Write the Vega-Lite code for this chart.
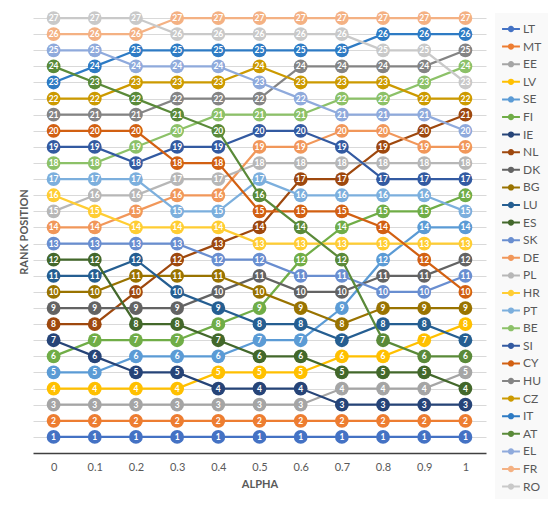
{
  "$schema": "https://vega.github.io/schema/vega-lite/v6.json",
  "width": 453,
  "height": 443,
  "autosize": {"type": "none"},
  "padding": {"left": 33, "top": 10, "right": 64, "bottom": 55},
  "background": "white",
  "data": {
    "values": [
      {"country":"LT","alpha":"0","rank":1},{"country":"LT","alpha":"0.1","rank":1},{"country":"LT","alpha":"0.2","rank":1},{"country":"LT","alpha":"0.3","rank":1},{"country":"LT","alpha":"0.4","rank":1},{"country":"LT","alpha":"0.5","rank":1},{"country":"LT","alpha":"0.6","rank":1},{"country":"LT","alpha":"0.7","rank":1},{"country":"LT","alpha":"0.8","rank":1},{"country":"LT","alpha":"0.9","rank":1},{"country":"LT","alpha":"1","rank":1},
      {"country":"MT","alpha":"0","rank":2},{"country":"MT","alpha":"0.1","rank":2},{"country":"MT","alpha":"0.2","rank":2},{"country":"MT","alpha":"0.3","rank":2},{"country":"MT","alpha":"0.4","rank":2},{"country":"MT","alpha":"0.5","rank":2},{"country":"MT","alpha":"0.6","rank":2},{"country":"MT","alpha":"0.7","rank":2},{"country":"MT","alpha":"0.8","rank":2},{"country":"MT","alpha":"0.9","rank":2},{"country":"MT","alpha":"1","rank":2},
      {"country":"EE","alpha":"0","rank":3},{"country":"EE","alpha":"0.1","rank":3},{"country":"EE","alpha":"0.2","rank":3},{"country":"EE","alpha":"0.3","rank":3},{"country":"EE","alpha":"0.4","rank":3},{"country":"EE","alpha":"0.5","rank":3},{"country":"EE","alpha":"0.6","rank":3},{"country":"EE","alpha":"0.7","rank":4},{"country":"EE","alpha":"0.8","rank":4},{"country":"EE","alpha":"0.9","rank":4},{"country":"EE","alpha":"1","rank":5},
      {"country":"LV","alpha":"0","rank":4},{"country":"LV","alpha":"0.1","rank":4},{"country":"LV","alpha":"0.2","rank":4},{"country":"LV","alpha":"0.3","rank":4},{"country":"LV","alpha":"0.4","rank":5},{"country":"LV","alpha":"0.5","rank":5},{"country":"LV","alpha":"0.6","rank":5},{"country":"LV","alpha":"0.7","rank":6},{"country":"LV","alpha":"0.8","rank":6},{"country":"LV","alpha":"0.9","rank":7},{"country":"LV","alpha":"1","rank":8},
      {"country":"SE","alpha":"0","rank":5},{"country":"SE","alpha":"0.1","rank":5},{"country":"SE","alpha":"0.2","rank":6},{"country":"SE","alpha":"0.3","rank":6},{"country":"SE","alpha":"0.4","rank":6},{"country":"SE","alpha":"0.5","rank":7},{"country":"SE","alpha":"0.6","rank":7},{"country":"SE","alpha":"0.7","rank":9},{"country":"SE","alpha":"0.8","rank":12},{"country":"SE","alpha":"0.9","rank":14},{"country":"SE","alpha":"1","rank":14},
      {"country":"FI","alpha":"0","rank":6},{"country":"FI","alpha":"0.1","rank":7},{"country":"FI","alpha":"0.2","rank":7},{"country":"FI","alpha":"0.3","rank":7},{"country":"FI","alpha":"0.4","rank":8},{"country":"FI","alpha":"0.5","rank":9},{"country":"FI","alpha":"0.6","rank":12},{"country":"FI","alpha":"0.7","rank":14},{"country":"FI","alpha":"0.8","rank":15},{"country":"FI","alpha":"0.9","rank":15},{"country":"FI","alpha":"1","rank":16},
      {"country":"IE","alpha":"0","rank":7},{"country":"IE","alpha":"0.1","rank":6},{"country":"IE","alpha":"0.2","rank":5},{"country":"IE","alpha":"0.3","rank":5},{"country":"IE","alpha":"0.4","rank":4},{"country":"IE","alpha":"0.5","rank":4},{"country":"IE","alpha":"0.6","rank":4},{"country":"IE","alpha":"0.7","rank":3},{"country":"IE","alpha":"0.8","rank":3},{"country":"IE","alpha":"0.9","rank":3},{"country":"IE","alpha":"1","rank":3},
      {"country":"NL","alpha":"0","rank":8},{"country":"NL","alpha":"0.1","rank":8},{"country":"NL","alpha":"0.2","rank":10},{"country":"NL","alpha":"0.3","rank":12},{"country":"NL","alpha":"0.4","rank":13},{"country":"NL","alpha":"0.5","rank":14},{"country":"NL","alpha":"0.6","rank":17},{"country":"NL","alpha":"0.7","rank":17},{"country":"NL","alpha":"0.8","rank":19},{"country":"NL","alpha":"0.9","rank":20},{"country":"NL","alpha":"1","rank":21},
      {"country":"DK","alpha":"0","rank":9},{"country":"DK","alpha":"0.1","rank":9},{"country":"DK","alpha":"0.2","rank":9},{"country":"DK","alpha":"0.3","rank":9},{"country":"DK","alpha":"0.4","rank":10},{"country":"DK","alpha":"0.5","rank":11},{"country":"DK","alpha":"0.6","rank":10},{"country":"DK","alpha":"0.7","rank":10},{"country":"DK","alpha":"0.8","rank":11},{"country":"DK","alpha":"0.9","rank":11},{"country":"DK","alpha":"1","rank":12},
      {"country":"BG","alpha":"0","rank":10},{"country":"BG","alpha":"0.1","rank":10},{"country":"BG","alpha":"0.2","rank":11},{"country":"BG","alpha":"0.3","rank":11},{"country":"BG","alpha":"0.4","rank":11},{"country":"BG","alpha":"0.5","rank":10},{"country":"BG","alpha":"0.6","rank":9},{"country":"BG","alpha":"0.7","rank":8},{"country":"BG","alpha":"0.8","rank":9},{"country":"BG","alpha":"0.9","rank":9},{"country":"BG","alpha":"1","rank":9},
      {"country":"LU","alpha":"0","rank":11},{"country":"LU","alpha":"0.1","rank":11},{"country":"LU","alpha":"0.2","rank":12},{"country":"LU","alpha":"0.3","rank":10},{"country":"LU","alpha":"0.4","rank":9},{"country":"LU","alpha":"0.5","rank":8},{"country":"LU","alpha":"0.6","rank":8},{"country":"LU","alpha":"0.7","rank":7},{"country":"LU","alpha":"0.8","rank":8},{"country":"LU","alpha":"0.9","rank":8},{"country":"LU","alpha":"1","rank":7},
      {"country":"ES","alpha":"0","rank":12},{"country":"ES","alpha":"0.1","rank":12},{"country":"ES","alpha":"0.2","rank":8},{"country":"ES","alpha":"0.3","rank":8},{"country":"ES","alpha":"0.4","rank":7},{"country":"ES","alpha":"0.5","rank":6},{"country":"ES","alpha":"0.6","rank":6},{"country":"ES","alpha":"0.7","rank":5},{"country":"ES","alpha":"0.8","rank":5},{"country":"ES","alpha":"0.9","rank":5},{"country":"ES","alpha":"1","rank":4},
      {"country":"SK","alpha":"0","rank":13},{"country":"SK","alpha":"0.1","rank":13},{"country":"SK","alpha":"0.2","rank":13},{"country":"SK","alpha":"0.3","rank":13},{"country":"SK","alpha":"0.4","rank":12},{"country":"SK","alpha":"0.5","rank":12},{"country":"SK","alpha":"0.6","rank":11},{"country":"SK","alpha":"0.7","rank":11},{"country":"SK","alpha":"0.8","rank":10},{"country":"SK","alpha":"0.9","rank":10},{"country":"SK","alpha":"1","rank":11},
      {"country":"DE","alpha":"0","rank":14},{"country":"DE","alpha":"0.1","rank":14},{"country":"DE","alpha":"0.2","rank":15},{"country":"DE","alpha":"0.3","rank":16},{"country":"DE","alpha":"0.4","rank":16},{"country":"DE","alpha":"0.5","rank":19},{"country":"DE","alpha":"0.6","rank":19},{"country":"DE","alpha":"0.7","rank":20},{"country":"DE","alpha":"0.8","rank":20},{"country":"DE","alpha":"0.9","rank":19},{"country":"DE","alpha":"1","rank":19},
      {"country":"PL","alpha":"0","rank":15},{"country":"PL","alpha":"0.1","rank":16},{"country":"PL","alpha":"0.2","rank":16},{"country":"PL","alpha":"0.3","rank":17},{"country":"PL","alpha":"0.4","rank":17},{"country":"PL","alpha":"0.5","rank":18},{"country":"PL","alpha":"0.6","rank":18},{"country":"PL","alpha":"0.7","rank":18},{"country":"PL","alpha":"0.8","rank":18},{"country":"PL","alpha":"0.9","rank":18},{"country":"PL","alpha":"1","rank":18},
      {"country":"HR","alpha":"0","rank":16},{"country":"HR","alpha":"0.1","rank":15},{"country":"HR","alpha":"0.2","rank":14},{"country":"HR","alpha":"0.3","rank":14},{"country":"HR","alpha":"0.4","rank":14},{"country":"HR","alpha":"0.5","rank":13},{"country":"HR","alpha":"0.6","rank":13},{"country":"HR","alpha":"0.7","rank":13},{"country":"HR","alpha":"0.8","rank":13},{"country":"HR","alpha":"0.9","rank":13},{"country":"HR","alpha":"1","rank":13},
      {"country":"PT","alpha":"0","rank":17},{"country":"PT","alpha":"0.1","rank":17},{"country":"PT","alpha":"0.2","rank":17},{"country":"PT","alpha":"0.3","rank":15},{"country":"PT","alpha":"0.4","rank":15},{"country":"PT","alpha":"0.5","rank":17},{"country":"PT","alpha":"0.6","rank":16},{"country":"PT","alpha":"0.7","rank":16},{"country":"PT","alpha":"0.8","rank":16},{"country":"PT","alpha":"0.9","rank":16},{"country":"PT","alpha":"1","rank":15},
      {"country":"BE","alpha":"0","rank":18},{"country":"BE","alpha":"0.1","rank":18},{"country":"BE","alpha":"0.2","rank":19},{"country":"BE","alpha":"0.3","rank":20},{"country":"BE","alpha":"0.4","rank":21},{"country":"BE","alpha":"0.5","rank":21},{"country":"BE","alpha":"0.6","rank":21},{"country":"BE","alpha":"0.7","rank":22},{"country":"BE","alpha":"0.8","rank":22},{"country":"BE","alpha":"0.9","rank":23},{"country":"BE","alpha":"1","rank":24},
      {"country":"SI","alpha":"0","rank":19},{"country":"SI","alpha":"0.1","rank":19},{"country":"SI","alpha":"0.2","rank":18},{"country":"SI","alpha":"0.3","rank":19},{"country":"SI","alpha":"0.4","rank":19},{"country":"SI","alpha":"0.5","rank":20},{"country":"SI","alpha":"0.6","rank":20},{"country":"SI","alpha":"0.7","rank":19},{"country":"SI","alpha":"0.8","rank":17},{"country":"SI","alpha":"0.9","rank":17},{"country":"SI","alpha":"1","rank":17},
      {"country":"CY","alpha":"0","rank":20},{"country":"CY","alpha":"0.1","rank":20},{"country":"CY","alpha":"0.2","rank":20},{"country":"CY","alpha":"0.3","rank":18},{"country":"CY","alpha":"0.4","rank":18},{"country":"CY","alpha":"0.5","rank":15},{"country":"CY","alpha":"0.6","rank":15},{"country":"CY","alpha":"0.7","rank":15},{"country":"CY","alpha":"0.8","rank":14},{"country":"CY","alpha":"0.9","rank":12},{"country":"CY","alpha":"1","rank":10},
      {"country":"HU","alpha":"0","rank":21},{"country":"HU","alpha":"0.1","rank":21},{"country":"HU","alpha":"0.2","rank":21},{"country":"HU","alpha":"0.3","rank":22},{"country":"HU","alpha":"0.4","rank":22},{"country":"HU","alpha":"0.5","rank":22},{"country":"HU","alpha":"0.6","rank":24},{"country":"HU","alpha":"0.7","rank":24},{"country":"HU","alpha":"0.8","rank":24},{"country":"HU","alpha":"0.9","rank":24},{"country":"HU","alpha":"1","rank":25},
      {"country":"CZ","alpha":"0","rank":22},{"country":"CZ","alpha":"0.1","rank":22},{"country":"CZ","alpha":"0.2","rank":23},{"country":"CZ","alpha":"0.3","rank":23},{"country":"CZ","alpha":"0.4","rank":23},{"country":"CZ","alpha":"0.5","rank":24},{"country":"CZ","alpha":"0.6","rank":23},{"country":"CZ","alpha":"0.7","rank":23},{"country":"CZ","alpha":"0.8","rank":23},{"country":"CZ","alpha":"0.9","rank":22},{"country":"CZ","alpha":"1","rank":22},
      {"country":"IT","alpha":"0","rank":23},{"country":"IT","alpha":"0.1","rank":24},{"country":"IT","alpha":"0.2","rank":25},{"country":"IT","alpha":"0.3","rank":25},{"country":"IT","alpha":"0.4","rank":25},{"country":"IT","alpha":"0.5","rank":25},{"country":"IT","alpha":"0.6","rank":25},{"country":"IT","alpha":"0.7","rank":25},{"country":"IT","alpha":"0.8","rank":26},{"country":"IT","alpha":"0.9","rank":26},{"country":"IT","alpha":"1","rank":26},
      {"country":"AT","alpha":"0","rank":24},{"country":"AT","alpha":"0.1","rank":23},{"country":"AT","alpha":"0.2","rank":22},{"country":"AT","alpha":"0.3","rank":21},{"country":"AT","alpha":"0.4","rank":20},{"country":"AT","alpha":"0.5","rank":16},{"country":"AT","alpha":"0.6","rank":14},{"country":"AT","alpha":"0.7","rank":12},{"country":"AT","alpha":"0.8","rank":7},{"country":"AT","alpha":"0.9","rank":6},{"country":"AT","alpha":"1","rank":6},
      {"country":"EL","alpha":"0","rank":25},{"country":"EL","alpha":"0.1","rank":25},{"country":"EL","alpha":"0.2","rank":24},{"country":"EL","alpha":"0.3","rank":24},{"country":"EL","alpha":"0.4","rank":24},{"country":"EL","alpha":"0.5","rank":23},{"country":"EL","alpha":"0.6","rank":22},{"country":"EL","alpha":"0.7","rank":21},{"country":"EL","alpha":"0.8","rank":21},{"country":"EL","alpha":"0.9","rank":21},{"country":"EL","alpha":"1","rank":20},
      {"country":"FR","alpha":"0","rank":26},{"country":"FR","alpha":"0.1","rank":26},{"country":"FR","alpha":"0.2","rank":26},{"country":"FR","alpha":"0.3","rank":27},{"country":"FR","alpha":"0.4","rank":27},{"country":"FR","alpha":"0.5","rank":27},{"country":"FR","alpha":"0.6","rank":27},{"country":"FR","alpha":"0.7","rank":27},{"country":"FR","alpha":"0.8","rank":27},{"country":"FR","alpha":"0.9","rank":27},{"country":"FR","alpha":"1","rank":27},
      {"country":"RO","alpha":"0","rank":27},{"country":"RO","alpha":"0.1","rank":27},{"country":"RO","alpha":"0.2","rank":27},{"country":"RO","alpha":"0.3","rank":26},{"country":"RO","alpha":"0.4","rank":26},{"country":"RO","alpha":"0.5","rank":26},{"country":"RO","alpha":"0.6","rank":26},{"country":"RO","alpha":"0.7","rank":26},{"country":"RO","alpha":"0.8","rank":25},{"country":"RO","alpha":"0.9","rank":25},{"country":"RO","alpha":"1","rank":23}
    ]
  },
  "encoding": {
    "x": {
      "field": "alpha",
      "type": "ordinal",
      "sort": ["0", "0.1", "0.2", "0.3", "0.4", "0.5", "0.6", "0.7", "0.8", "0.9", "1"],
      "scale": {"type": "point", "padding": 0.5},
      "axis": {
        "title": "ALPHA",
        "labelAngle": 0,
        "ticks": false,
        "grid": false,
        "domainColor": "#404040",
        "domainWidth": 1.5,
        "labelPadding": 8,
        "titlePadding": 6
      }
    },
    "y": {
      "field": "rank",
      "type": "quantitative",
      "scale": {"domain": [0, 27.5], "nice": false, "zero": true},
      "axis": {
        "title": "RANK POSITION",
        "values": [1, 2, 3, 4, 5, 6, 7, 8, 9, 10, 11, 12, 13, 14, 15, 16, 17, 18, 19, 20, 21, 22, 23, 24, 25, 26, 27],
        "labels": false,
        "ticks": false,
        "domain": false,
        "grid": true,
        "gridColor": "#D9D9D9",
        "titlePadding": 4
      }
    },
    "color": {
      "field": "country",
      "type": "nominal",
      "scale": {
        "domain": ["LT", "MT", "EE", "LV", "SE", "FI", "IE", "NL", "DK", "BG", "LU", "ES", "SK", "DE", "PL", "HR", "PT", "BE", "SI", "CY", "HU", "CZ", "IT", "AT", "EL", "FR", "RO"],
        "range": ["#4472C4", "#ED7D31", "#A5A5A5", "#FFC000", "#5B9BD5", "#70AD47", "#264478", "#9E480E", "#636363", "#997300", "#255E91", "#43682B", "#698ED0", "#F1975A", "#B7B7B7", "#FFCD33", "#7CAFDD", "#8CC168", "#335AA1", "#D26012", "#848484", "#CC9A00", "#2E7BC4", "#5A8A39", "#8FAADC", "#F4B183", "#C9C9C9"]
      },
      "legend": {
        "title": null,
        "orient": "none",
        "legendX": 462,
        "legendY": 3,
        "padding": 6,
        "fillColor": "#F9F9F9",
        "symbolType": "M-1,0H1M0.24,0A0.24,0.24,0,1,1,-0.24,0A0.24,0.24,0,1,1,0.24,0",
        "symbolSize": 320,
        "symbolStrokeWidth": 2,
        "rowPadding": 0.6,
        "labelOffset": 2,
        "labelFontSize": 12,
        "labelFont": "Lato",
        "labelColor": "#595959",
        "encode": {
          "symbols": {
            "update": {
              "fill": {"scale": "color", "field": "value"},
              "stroke": {"scale": "color", "field": "value"},
              "opacity": {"value": 1}
            }
          }
        }
      }
    }
  },
  "layer": [
    {
      "mark": {"type": "line", "strokeWidth": 2.25}
    },
    {
      "mark": {"type": "point", "filled": true, "size": 190, "opacity": 1, "strokeWidth": 0}
    },
    {
      "mark": {"type": "text", "color": "white", "fontSize": 8.5, "fontWeight": "bold", "baseline": "middle", "font": "Lato"},
      "encoding": {
        "text": {"field": "rank", "type": "quantitative"},
        "color": {"value": "white"}
      }
    }
  ],
  "config": {
    "view": {"stroke": null},
    "axis": {
      "labelFont": "Lato",
      "titleFont": "Lato",
      "labelFontSize": 11,
      "titleFontSize": 11,
      "labelColor": "#595959",
      "titleColor": "#595959",
      "titleFontWeight": "bold"
    }
  }
}
